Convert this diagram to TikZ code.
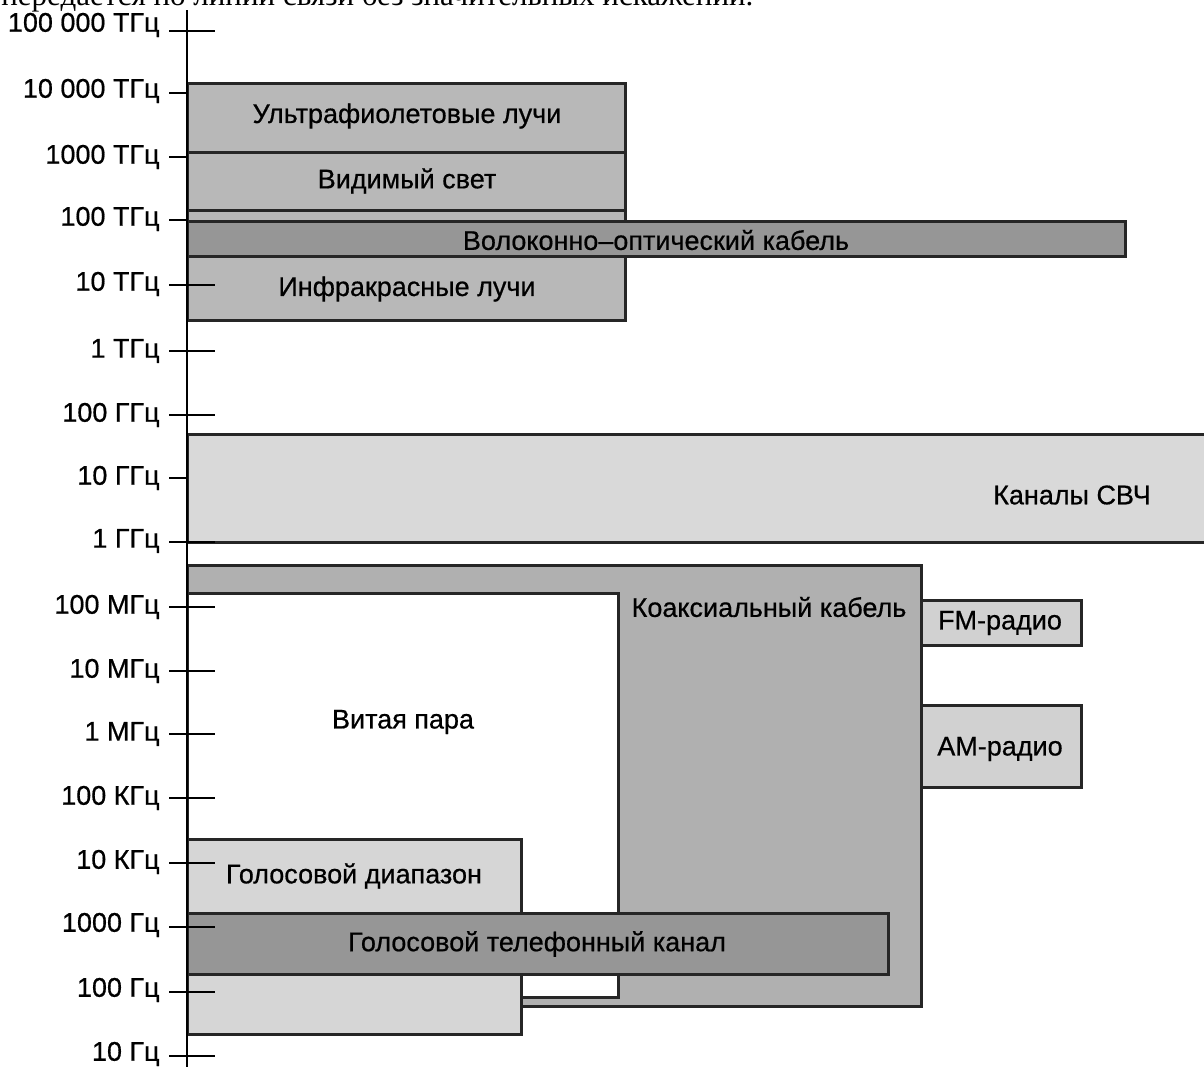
\documentclass[tikz,border=0pt]{standalone}
\usepackage{fontspec}
\setmainfont{Liberation Sans}[FakeBold=0.6]
\newfontfamily\headserif{Liberation Serif}
\definecolor{bandgray}{gray}{0.72}
\definecolor{fibergray}{gray}{0.59}
\definecolor{mwgray}{gray}{0.85}
\definecolor{coaxgray}{gray}{0.69}
\definecolor{voicegray}{gray}{0.84}
\definecolor{telgray}{gray}{0.59}
\definecolor{radiogray}{gray}{0.82}
\begin{document}
\begin{tikzpicture}[x=0.5pt,y=-0.5pt,
  bandbox/.style={draw=black!85, line width=1.5pt},
  lbl/.style={font=\fontsize{13.5}{16}\selectfont, inner sep=0pt},
  ticklbl/.style={font=\fontsize{13.5}{16}\selectfont, anchor=east, inner sep=0pt},
  tickline/.style={line width=1pt}]
\useasboundingbox (0,0) rectangle (1204,1066);
\clip (0,0) rectangle (1204,1066);
\fill[white] (0,0) rectangle (1204,1066);

% clipped line of the page text above the figure
\node[anchor=base west, inner sep=0pt, font=\headserif\fontsize{15.5}{18}\selectfont] (head) at (1,5) {передается по линии связи без значительных искажений.};

% optical bands
\draw[bandbox, fill=bandgray] (187,83) rectangle (625,320);
\draw[bandbox] (187,152) -- (625,152);
\draw[bandbox] (187,210) -- (625,210);
\draw[bandbox, fill=fibergray] (187,221) rectangle (1125,256);

% microwave
\draw[bandbox, fill=mwgray] (187,434) rectangle (1230,542);

% coax, radio
\draw[bandbox, fill=coaxgray] (187,565) rectangle (921,1006);
\draw[bandbox, fill=radiogray] (921,600) rectangle (1081,645);
\draw[bandbox, fill=radiogray] (921,705) rectangle (1081,787);

% twisted pair
\draw[bandbox, fill=white] (187,593) rectangle (618,997);

% voice
\draw[bandbox, fill=voicegray] (187,839) rectangle (521,1034);
\draw[bandbox, fill=telgray] (187,913) rectangle (888,974);

% axis
\draw[line width=1.1pt] (187,10) -- (187,1070);

% ticks
\foreach \yy/\full in {31/1, 93/0, 157/0, 220/0, 285/1, 351/1, 415/1, 478/0, 542/1, 607/1,
  671/1, 734/1, 798/1, 863/1, 927/1, 992/1, 1056/1}{
  \ifnum\full=1
    \draw[tickline] (169,\yy) -- (215,\yy);
  \else
    \draw[tickline] (169,\yy) -- (187,\yy);
  \fi
}

% tick labels
\node[ticklbl] (t0) at (160,25) {100 000 ТГц};
\node[ticklbl] (t1) at (160,91) {10 000 ТГц};
\node[ticklbl] (t2) at (160,157) {1000 ТГц};
\node[ticklbl] (t3) at (160,219) {100 ТГц};
\node[ticklbl] (t4) at (160,284) {10 ТГц};
\node[ticklbl] (t5) at (160,351) {1 ТГц};
\node[ticklbl] (t6) at (160,415) {100 ГГц};
\node[ticklbl] (t7) at (160,478) {10 ГГц};
\node[ticklbl] (t8) at (160,541) {1 ГГц};
\node[ticklbl] (t9) at (160,607) {100 МГц};
\node[ticklbl] (t10) at (160,671) {10 МГц};
\node[ticklbl] (t11) at (160,734) {1 МГц};
\node[ticklbl] (t12) at (160,798) {100 КГц};
\node[ticklbl] (t13) at (160,862) {10 КГц};
\node[ticklbl] (t14) at (160,925) {1000 Гц};
\node[ticklbl] (t15) at (160,990) {100 Гц};
\node[ticklbl] (t16) at (160,1054) {10 Гц};

% band labels
\node[lbl] (uv) at (407,116) {Ультрафиолетовые лучи};
\node[lbl] (vis) at (407,181) {Видимый свет};
\node[lbl] (fiber) at (656,240) {Волоконно–оптический кабель};
\node[lbl] (ir) at (407,289) {Инфракрасные лучи};
\node[lbl] (mw) at (1072,495) {Каналы СВЧ};
\node[lbl] (coax) at (769,607) {Коаксиальный кабель};
\node[lbl] (fm) at (1000,623) {FM-радио};
\node[lbl] (am) at (1000,749) {AM-радио};
\node[lbl] (tp) at (403,722) {Витая пара};
\node[lbl] (voice) at (354,876) {Голосовой диапазон};
\node[lbl] (tel) at (537,944) {Голосовой телефонный канал};
\end{tikzpicture}
\end{document}
